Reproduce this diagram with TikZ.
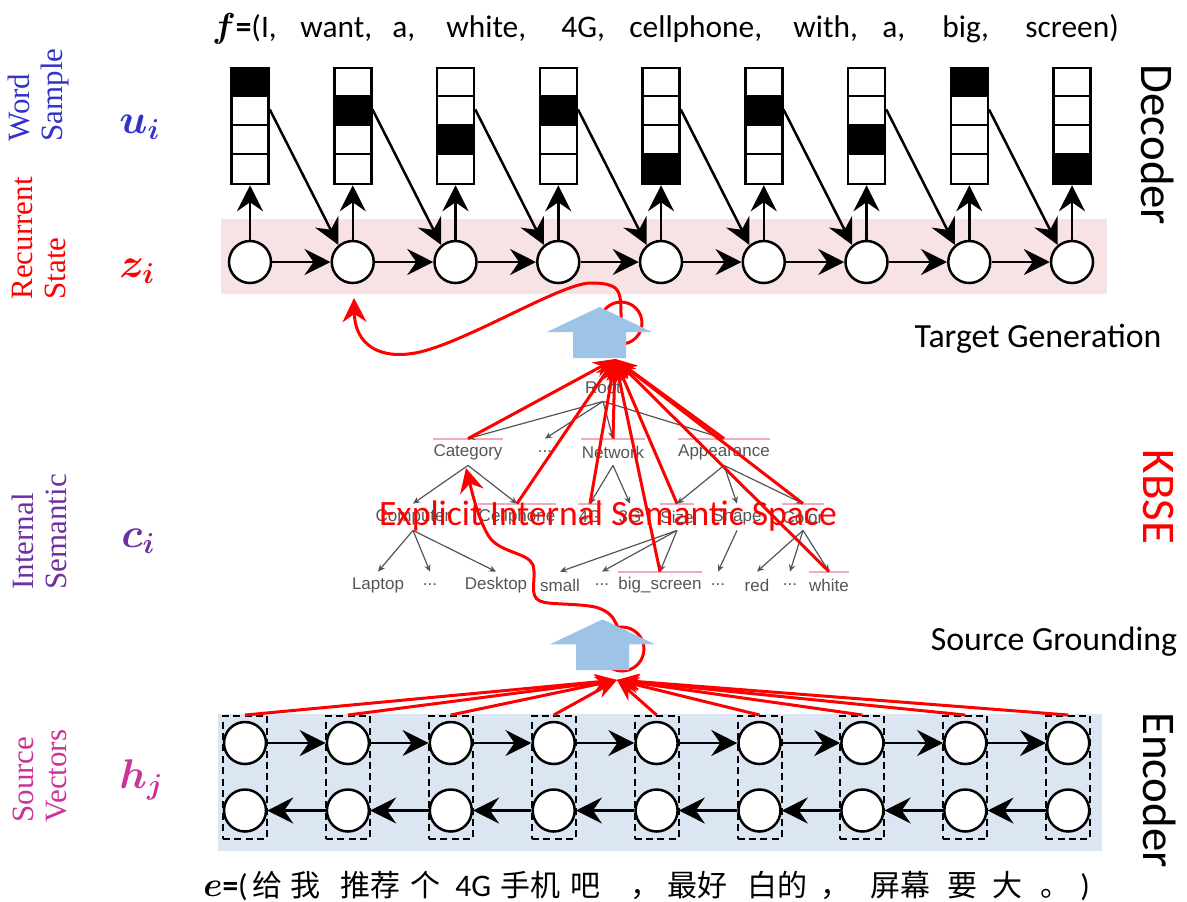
\documentclass[tikz,border=0pt]{standalone}
\usepackage{fontspec}
\setmainfont{Carlito}
\newfontfamily\cjkfont{Noto Sans CJK SC}
\newfontfamily\treefont{Liberation Sans}
\newfontfamily\sidefont{Liberation Serif}
\usepackage{bm}
\usetikzlibrary{arrows.meta,calc}

\definecolor{wordblue}{RGB}{51,51,204}
\definecolor{sempurple}{RGB}{112,48,160}
\definecolor{srcmagenta}{RGB}{204,51,153}
\definecolor{bandpink}{RGB}{248,227,228}
\definecolor{bandblue}{RGB}{220,230,242}
\definecolor{blockblue}{RGB}{157,195,230}
\definecolor{linkpink}{RGB}{240,170,185}
\definecolor{treegray}{RGB}{85,85,85}

\begin{document}
\begin{tikzpicture}[x=0.5pt, y=-0.5pt,
  state/.style={circle, draw=black, fill=white, line width=1.25pt, minimum size=21pt, inner sep=0pt},
  wordbox/.style={rectangle, draw=black, fill=white, line width=1.25pt, minimum width=18.5pt, minimum height=58pt, inner sep=0pt},
  dashbox/.style={rectangle, draw=black, line width=1pt, dash pattern=on 3.5pt off 2.2pt, minimum width=22pt, minimum height=61.5pt, inner sep=0pt},
  flow/.style={line width=1.25pt, -{Stealth[length=13pt, width=13pt, inset=4.5pt]}},
  ground/.style={draw=red, line width=1.5pt, -{Stealth[length=11pt, width=8pt, inset=3.5pt]}},
  loopline/.style={draw=red, line width=1.5pt},
  curvetip/.style={draw=red, line width=1.5pt, -{Stealth[length=12pt, width=12pt, inset=4pt]}},
  treelabel/.style={font=\treefont\fontsize{8.5}{10}\selectfont, text=treegray, inner sep=0pt, minimum height=13pt},
  treelink/.style={draw=treegray, line width=0.6pt, -{Stealth[length=3.5pt, width=3.2pt]}},
  sidelabel/.style={font=\sidefont\fontsize{15.5}{16.5}\selectfont, rotate=90, align=left, anchor=west, inner sep=0pt},
  varlabel/.style={font=\fontsize{21}{25}\selectfont, anchor=base west, inner sep=0pt},
  partlabel/.style={font=\fontsize{23.4}{28}\selectfont, rotate=-90, inner sep=0pt},
  steplabel/.style={font=\fontsize{16.9}{20}\selectfont, anchor=base, inner sep=0pt},
  topword/.style={font=\fontsize{15.7}{19}\selectfont, anchor=base west, inner sep=0pt},
  srcword/.style={font=\cjkfont\fontsize{15}{18}\selectfont, anchor=base west, inner sep=0pt},
]
\useasboundingbox (0,0) rectangle (1187,901);

% background bands of the decoder and encoder
\fill[bandpink] (221,219) rectangle (1107,294);
\fill[bandblue] (218,714) rectangle (1102,851);

% knowledge tree
\node[treelabel] (root) at (603,388) {Root};
\node[treelabel] (cat) at (468,452) {Category};
\node[treelabel] (dotsa) at (545,452) {...};
\node[treelabel] (net) at (613,452) {Network};
\node[treelabel] (app) at (724,452) {Appearance};
\node[treelabel] (comp) at (413,517) {Computer};
\node[treelabel] (cell) at (517,517) {Cellphone};
\node[treelabel] (fourg) at (590,517) {4G};
\node[treelabel] (threeg) at (630,517) {3G};
\node[treelabel] (size) at (677,517) {Size};
\node[treelabel] (shape) at (737,517) {Shape};
\node[treelabel] (color) at (803,517) {Color};
\node[treelabel] (laptop) at (378,585) {Laptop};
\node[treelabel] (dotsb) at (430,585) {...};
\node[treelabel] (desk) at (496,585) {Desktop};
\node[treelabel] (small) at (560,585) {small};
\node[treelabel] (dotsc) at (602,585) {...};
\node[treelabel] (big) at (660,585) {big\_screen};
\node[treelabel] (dotsd) at (718,585) {...};
\node[treelabel] (red) at (757,585) {red};
\node[treelabel] (dotse) at (790,585) {...};
\node[treelabel] (white) at (829,585) {white};

\foreach \n in {cat,net,app,cell,fourg,size,color,big,white}
  \draw[linkpink, line width=1pt] (\n.north west) -- (\n.north east);

\foreach \a/\b in {root/cat,root/dotsa,root/net,root/app,
                   cat/comp,cat/cell,net/fourg,net/threeg,
                   app/size,app/shape,app/color,
                   comp/laptop,comp/dotsb,comp/desk,
                   size/small,size/dotsc,size/big,shape/dotsd,
                   color/red,color/dotse,color/white}
  \draw[treelink] (\a.south) -- (\b.north);

\node[font=\fontsize{17.8}{21}\selectfont, text=red, anchor=base, inner sep=0pt] (space) at (608,525) {Explicit Internal Semantic Space};

% decoder: recurrent states and sampled words
\foreach \k/\cc in {1/0,2/1,3/2,4/1,5/3,6/1,7/2,8/0,9/3}{
  \pgfmathsetmacro\xx{250+102.75*(\k-1)}
  \node[state] (z\k) at (\xx,262) {};
  \node[wordbox] (w\k) at (\xx,126) {};
  \fill ($(w\k.north west)+(0,29*\cc)$) rectangle ($(w\k.north east)+(0,29*\cc+29)$);
  \foreach \r in {1,2,3}
    \draw[line width=1.25pt] ($(w\k.north west)+(0,29*\r)$) -- ($(w\k.north east)+(0,29*\r)$);
  \draw[flow] (z\k) -- (w\k);
}
\foreach \k in {1,...,8}{
  \pgfmathtruncatemacro\nx{\k+1}
  \draw[flow] (z\k) -- (z\nx);
  \draw[flow] ($(w\k.north east)!0.36!(w\k.south east)$) -- (z\nx.130);
}

% encoder: bidirectional source states
\foreach \k in {1,...,9}{
  \pgfmathsetmacro\xx{245+102.9*(\k-1)}
  \node[state] (f\k) at (\xx,743) {};
  \node[state] (b\k) at (\xx,810.5) {};
  \node[dashbox] (d\k) at (\xx,777.5) {};
}
\foreach \k in {1,...,8}{
  \pgfmathtruncatemacro\nx{\k+1}
  \draw[flow] (f\k) -- (f\nx);
  \draw[flow] (b\nx) -- (b\k);
}

% red feedback curves with their loops
\coordinate (cattip) at (466,468);
\coordinate (dectip) at (354,298);
\draw[loopline] (622,649) circle [radius=22];
\draw[curvetip] (618,628) .. controls (614,618) and (610,611) .. (595,607)
  .. controls (575,603) and (548,605) .. (540,601)
  .. controls (528,596) and (537,578) .. (533,565)
  .. controls (528,552) and (498,553) .. (488,535)
  .. controls (478,518) and (472,492) .. (cattip);
\draw[loopline] (621,323) circle [radius=21];
\draw[curvetip] (621,318) .. controls (621,300) and (621,290) .. (612,286)
  .. controls (605,283) and (598,283) .. (590,283)
  .. controls (560,284) and (470,340) .. (420,352)
  .. controls (380,361) and (355,345) .. (dectip);

% block arrows: target generation and source grounding
\fill[blockblue] (599.5,307) -- (652,332) -- (626,332) -- (626,358) -- (573,358) -- (573,332) -- (547,332) -- cycle;
\fill[blockblue] (602.5,619.3) -- (655,644.3) -- (629,644.3) -- (629,670) -- (576,670) -- (576,644.3) -- (550,644.3) -- cycle;

% grounding links
\coordinate (srchub) at (617,680);
\foreach \k in {1,...,9}
  \draw[ground] (d\k.north) -- (srchub);
\coordinate (kbhub) at (615,359);
\foreach \n in {cat,cell,fourg,net,big,size,app,white,color}
  \draw[ground] (\n.north) -- (kbhub);

% side labels
\node[sidelabel, text=wordblue] (labword) at (39,142) {Word\\Sample};
\node[sidelabel, text=red] (labstate) at (39,300) {Recurrent\\State};
\node[sidelabel, text=sempurple] (labsem) at (39,590) {Internal\\Semantic};
\node[sidelabel, text=srcmagenta] (labsrc) at (40,823) {Source\\Vectors};

\node[varlabel, text=wordblue] (ui) at (119,133) {$\bm{u}_{\bm{i}}$};
\node[varlabel, text=red] (zi) at (119,277) {$\bm{z}_{\bm{i}}$};
\node[varlabel, text=sempurple] (ci) at (121,547) {$\bm{c}_{\bm{i}}$};
\node[varlabel, text=srcmagenta] (hj) at (119,788) {$\bm{h}_{\bm{j}}$};

\node[partlabel] (dec) at (1158,145) {Decoder};
\node[partlabel, text=red] (kbse) at (1159,497) {KBSE};
\node[partlabel] (enc) at (1160,790) {Encoder};
\node[steplabel] (tgen) at (1038,347) {Target Generation};
\node[steplabel] (sgr) at (1054,650) {Source Grounding};

% target sentence
\node[topword] (t0) at (212,37) {{\fontsize{19}{22}\selectfont$\bm{f}$}\textbf{=}(I,};
\node[topword] (t1) at (300,37) {want,};
\node[topword] (t2) at (392,37) {a,};
\node[topword] (t3) at (446,37) {white,};
\node[topword] (t4) at (561,37) {4G,};
\node[topword] (t5) at (629,37) {cellphone,};
\node[topword] (t6) at (793,37) {with,};
\node[topword] (t7) at (882,37) {a,};
\node[topword] (t8) at (942,37) {big,};
\node[topword] (t9) at (1025,37) {screen)};

% source sentence
\node[topword] (s0) at (203,896) {{\fontsize{19}{22}\selectfont$\bm{e}$}\textbf{=}(};
\node[srcword] (s1) at (252,896) {给};
\node[srcword] (s2) at (290,896) {我};
\node[srcword] (s3) at (340,896) {推荐};
\node[srcword] (s4) at (410,896) {个};
\node[topword] (s5) at (455,896) {4G};
\node[srcword] (s6) at (500,896) {手机};
\node[srcword] (s7) at (570,896) {吧};
\node[srcword] (s8) at (630,896) {，};
\node[srcword] (s9) at (667,896) {最好};
\node[srcword] (s10) at (747,896) {白的};
\node[srcword] (s11) at (820,896) {，};
\node[srcword] (s12) at (870,896) {屏幕};
\node[srcword] (s13) at (947,896) {要};
\node[srcword] (s14) at (992,896) {大};
\node[srcword] (s15) at (1040,896) {。};
\node[topword] (s16) at (1080,896) {)};
\end{tikzpicture}
\end{document}
